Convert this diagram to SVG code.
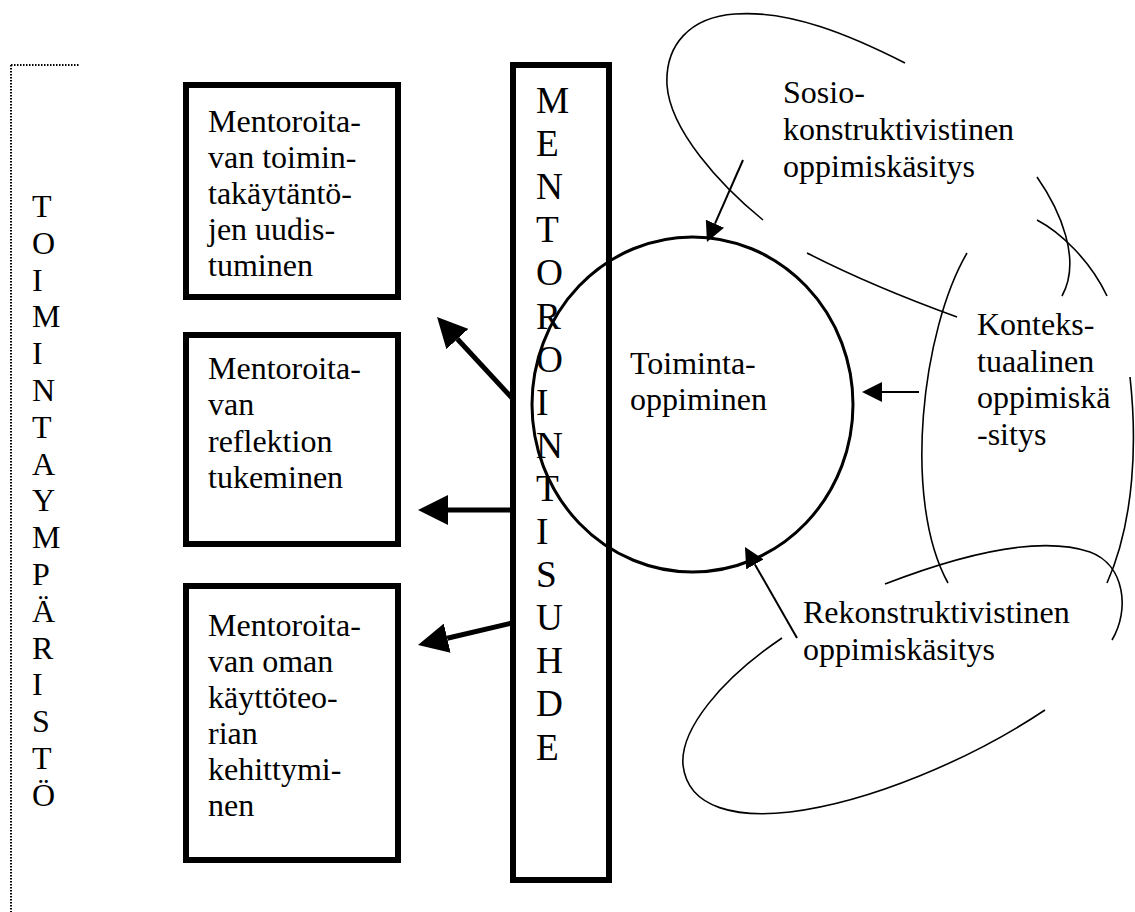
<svg xmlns="http://www.w3.org/2000/svg" width="1135" height="912" viewBox="0 0 1135 912">
  <style>
    text { font-family: "Liberation Serif", "Times New Roman", serif; font-size: 32px; fill: #000; }
    .big { font-size: 37.3px; }
    .box { fill: #fff; stroke: #000; stroke-width: 6; }
    .thick { stroke: #000; stroke-width: 5; fill: none; }
    .thin { stroke: #000; stroke-width: 2; fill: none; }
    .curve { stroke: #000; stroke-width: 1.6; fill: none; }
    .dotted { stroke: #000; stroke-width: 2; stroke-dasharray: 1.5 1.5; fill: none; }
  </style>
  <defs>
    <marker id="headBig" markerUnits="userSpaceOnUse" markerWidth="30" markerHeight="30" viewBox="0 0 30 30" refX="0" refY="15" orient="auto">
      <path d="M0,0 L30,15 L0,30 z" fill="#000"/>
    </marker>
    <marker id="headSmall" markerUnits="userSpaceOnUse" markerWidth="20" markerHeight="20" viewBox="0 0 20 20" refX="0" refY="10" orient="auto">
      <path d="M0,0 L20,10 L0,20 z" fill="#000"/>
    </marker>
  </defs>
  <rect width="1135" height="912" fill="#fff"/>

  <!-- outer frame: operating environment -->
  <g id="toimintaymparisto">
    <path class="dotted" d="M11,65 L80,65 M11,65 L11,912"/>
    <text x="32">
      <tspan x="32" y="217">T</tspan>
      <tspan x="32" y="253.8">O</tspan>
      <tspan x="32" y="290.6">I</tspan>
      <tspan x="32" y="327.4">M</tspan>
      <tspan x="32" y="364.2">I</tspan>
      <tspan x="32" y="401">N</tspan>
      <tspan x="32" y="437.8">T</tspan>
      <tspan x="32" y="474.6">A</tspan>
      <tspan x="32" y="511.4">Y</tspan>
      <tspan x="32" y="548.2">M</tspan>
      <tspan x="32" y="585">P</tspan>
      <tspan x="32" y="621.8">Ä</tspan>
      <tspan x="32" y="658.6">R</tspan>
      <tspan x="32" y="695.4">I</tspan>
      <tspan x="32" y="732.2">S</tspan>
      <tspan x="32" y="769">T</tspan>
      <tspan x="32" y="805.8">Ö</tspan>
    </text>
  </g>

  <!-- outcome boxes -->
  <g id="uudistuminen">
    <rect class="box" x="186" y="85" width="212" height="212"/>
    <text>
      <tspan x="208" y="131.5">Mentoroita-</tspan>
      <tspan x="208" y="167.5">van toimin-</tspan>
      <tspan x="208" y="203.5">takäytäntö-</tspan>
      <tspan x="208" y="239.5">jen uudis-</tspan>
      <tspan x="208" y="275.5">tuminen</tspan>
    </text>
  </g>
  <g id="reflektio">
    <rect class="box" x="186" y="335" width="212" height="209"/>
    <text>
      <tspan x="208" y="378.5">Mentoroita-</tspan>
      <tspan x="208" y="415">van</tspan>
      <tspan x="208" y="451.5">reflektion</tspan>
      <tspan x="208" y="488">tukeminen</tspan>
    </text>
  </g>
  <g id="kayttoteoria">
    <rect class="box" x="186" y="586" width="212" height="274"/>
    <text>
      <tspan x="208" y="636">Mentoroita-</tspan>
      <tspan x="208" y="672">van oman</tspan>
      <tspan x="208" y="708">käyttöteo-</tspan>
      <tspan x="208" y="744">rian</tspan>
      <tspan x="208" y="780">kehittymi-</tspan>
      <tspan x="208" y="816">nen</tspan>
    </text>
  </g>

  <!-- mentoring relationship column -->
  <g id="mentorointisuhde">
    <rect class="box" x="513" y="65" width="96" height="815"/>
    <text class="big">
      <tspan x="536" y="113">M</tspan>
      <tspan x="536" y="156.1">E</tspan>
      <tspan x="536" y="199.2">N</tspan>
      <tspan x="536" y="242.3">T</tspan>
      <tspan x="536" y="285.4">O</tspan>
      <tspan x="536" y="328.5">R</tspan>
      <tspan x="536" y="371.6">O</tspan>
      <tspan x="536" y="414.7">I</tspan>
      <tspan x="536" y="457.8">N</tspan>
      <tspan x="536" y="500.9">T</tspan>
      <tspan x="536" y="544">I</tspan>
      <tspan x="536" y="587.1">S</tspan>
      <tspan x="536" y="630.2">U</tspan>
      <tspan x="536" y="673.3">H</tspan>
      <tspan x="536" y="716.4">D</tspan>
      <tspan x="536" y="759.5">E</tspan>
    </text>
  </g>

  <!-- action learning circle -->
  <g id="toimintaoppiminen">
    <ellipse cx="692.5" cy="404.5" rx="160.5" ry="167.5" fill="none" stroke="#000" stroke-width="3"/>
    <text>
      <tspan x="630" y="374">Toiminta-</tspan>
      <tspan x="630" y="410">oppiminen</tspan>
    </text>
  </g>

  <!-- socio-constructivist view -->
  <g id="sosiokonstruktivistinen">
    <path class="curve" d="M905,63 C850,35 790,10 735,14 C690,17 665,45 667,85 C670,130 720,185 763,220"/>
    <path class="curve" d="M807,253 C850,275 910,300 957,317"/>
    <path class="curve" d="M1037,177 C1060,210 1082,260 1062,296"/>
    <text>
      <tspan x="783" y="103">Sosio-</tspan>
      <tspan x="783" y="140">konstruktivistinen</tspan>
      <tspan x="783" y="177">oppimiskäsitys</tspan>
    </text>
  </g>

  <!-- contextual view -->
  <g id="kontekstuaalinen">
    <path class="curve" d="M1037,220 C1060,232 1090,260 1107,296"/>
    <path class="curve" d="M967,253 C922,330 902,500 948,583"/>
    <path class="curve" d="M1130,377 C1137,440 1135,520 1107,583"/>
    <text>
      <tspan x="977" y="335">Konteks-</tspan>
      <tspan x="977" y="371.5">tuaalinen</tspan>
      <tspan x="977" y="408">oppimiskä</tspan>
      <tspan x="977" y="444.5">-sitys</tspan>
    </text>
  </g>

  <!-- reconstructivist view -->
  <g id="rekonstruktivistinen">
    <path class="curve" d="M885,584 C960,555 1040,535 1090,552 C1125,565 1130,610 1112,640"/>
    <path class="curve" d="M782,638 C720,680 680,730 683,765 C688,810 740,818 790,812 C870,802 970,760 1045,710"/>
    <text>
      <tspan x="803" y="623">Rekonstruktivistinen</tspan>
      <tspan x="803" y="660">oppimiskäsitys</tspan>
    </text>
  </g>

  <!-- connectors -->
  <g id="connectors">
    <line class="thick" x1="512" y1="398" x2="457.4" y2="339" marker-end="url(#headBig)"/>
    <line class="thick" x1="512" y1="510" x2="448" y2="510" marker-end="url(#headBig)"/>
    <line class="thick" x1="512" y1="623" x2="447.2" y2="638.2" marker-end="url(#headBig)"/>
    <line class="thin" x1="743" y1="160" x2="715" y2="223.7" marker-end="url(#headSmall)"/>
    <line class="thin" x1="919" y1="392" x2="882" y2="392" marker-end="url(#headSmall)"/>
    <line class="thin" x1="797" y1="638" x2="754.9" y2="564.4" marker-end="url(#headSmall)"/>
  </g>
</svg>
